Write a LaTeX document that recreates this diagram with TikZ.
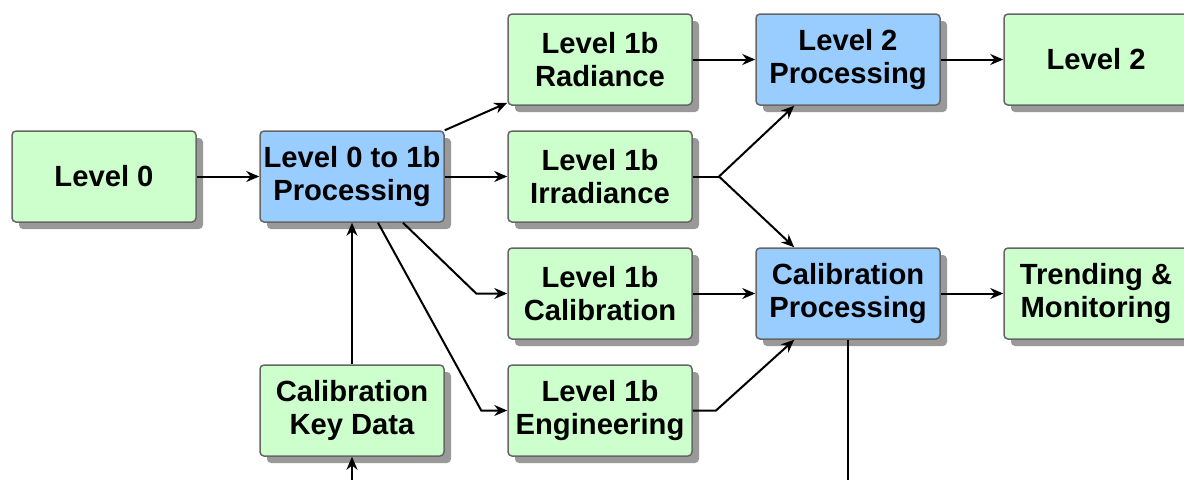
\documentclass[tikz,border=0pt]{standalone}
\usepackage{fontspec}
\setmainfont{Liberation Sans}
\usetikzlibrary{arrows.meta,shadows}
\definecolor{boxgreen}{HTML}{CCFFCC}
\definecolor{boxblue}{HTML}{99CCFF}
\definecolor{boxline}{HTML}{666666}

\begin{document}
\begin{tikzpicture}[%
      x=0.5pt, y=-0.5pt,
      box/.style={draw=boxline, line width=0.75pt, rounded corners=2pt,
        minimum width=92pt, minimum height=45.5pt, inner sep=0pt, align=center,
        font=\fontsize{14.6}{16.5}\selectfont\bfseries,
        drop shadow={shadow xshift=3.5pt, shadow yshift=-3.5pt, fill=black!40, opacity=1}},
      databox/.style={box, fill=boxgreen},
      procbox/.style={box, fill=boxblue},
      wire/.style={line width=1pt},
      link/.style={wire, -{Stealth[length=6.5pt,width=5.5pt]}},
      ]
      \useasboundingbox (0,0) rectangle (1184,479);
      \clip (0,0) rectangle (1184,479);

      \node[databox] (lzero) at (104,176.5) {Level 0};
      \node[procbox] (lzeroproc) at (352,176.5) {Level 0 to 1b\\Processing};
      \node[databox] (rad) at (600,59.5) {Level 1b\\Radiance};
      \node[databox] (irr) at (600,176.5) {Level 1b\\Irradiance};
      \node[databox] (cal) at (600,293.5) {Level 1b\\Calibration};
      \node[databox] (eng) at (600,410.5) {Level 1b\\Engineering};
      \node[databox] (key) at (352,410.5) {Calibration\\Key Data};
      \node[procbox] (ltwoproc) at (848,59.5) {Level 2\\Processing};
      \node[procbox] (calproc) at (848,293.5) {Calibration\\Processing};
      \node[databox] (ltwo) at (1096,59.5) {Level 2};
      \node[databox] (trend) at (1096,293.5) {Trending \&\\Monitoring};

      \coordinate (keyin) at (352,490);
      \coordinate (calout) at (848,490);
      \coordinate (irrsplit) at (719,176.5);
      \coordinate (engbend) at (716,410.5);

      \draw[link] (lzero) -- (lzeroproc);
      \draw[link] (lzeroproc.north east) -- ([yshift=1.5pt]rad.south west);
      \draw[link] (lzeroproc) -- (irr);
      \draw[link] ([xshift=25.5pt]lzeroproc.south) -- ([xshift=-15.5pt]cal.west) -- (cal.west);
      \draw[link] ([xshift=13pt]lzeroproc.south) -- ([xshift=-13pt]eng.west) -- (eng.west);
      \draw[link] (key) -- (lzeroproc);
      \draw[link] (keyin) -- (key);

      \draw[link] (rad) -- (ltwoproc);
      \draw[wire] (irr) -- (irrsplit);
      \draw[link] (irrsplit) -- ([xshift=19.5pt]ltwoproc.south west);
      \draw[link] (irrsplit) -- ([xshift=19.5pt]calproc.north west);
      \draw[link] (cal) -- (calproc);
      \draw[link] (eng.east) -- (engbend) -- ([xshift=19.5pt]calproc.south west);

      \draw[link] (ltwoproc) -- (ltwo);
      \draw[link] (calproc) -- (trend);
      \draw[wire] (calproc) -- (calout);
\end{tikzpicture}
\end{document}
